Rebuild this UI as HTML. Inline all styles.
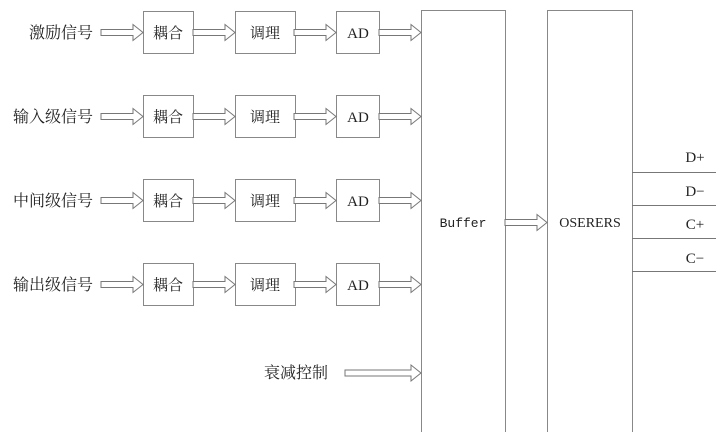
<!DOCTYPE html>
<html><head><meta charset="utf-8"><style>
html,body{margin:0;padding:0;background:#fff;}
svg{display:block;}
text{font-family:"Liberation Serif","Noto Serif CJK SC","Noto Sans CJK SC",serif;fill:#222;}
</style></head><body>
<svg width="720" height="432" viewBox="0 0 720 432" xmlns="http://www.w3.org/2000/svg">
<defs>
<g id="arr"><polygon points="0,-3 32,-3 32,-8 42,0 32,8 32,3 0,3" fill="#fff" stroke="#777" stroke-width="1"/></g>
</defs>
<g stroke="#888" fill="#fff" stroke-width="1">
<rect x="421.5" y="10.5" width="84" height="430"/>
<rect x="547.5" y="10.5" width="85" height="430"/>
</g>
<g stroke="#777" stroke-width="1">
<line x1="632" y1="172.5" x2="716" y2="172.5"/>
<line x1="632" y1="205.5" x2="716" y2="205.5"/>
<line x1="632" y1="238.5" x2="716" y2="238.5"/>
<line x1="632" y1="271.5" x2="716" y2="271.5"/>
</g>
<g font-size="15" text-anchor="middle">
<text x="695" y="162">D+</text>
<text x="695" y="196">D−</text>
<text x="695" y="229">C+</text>
<text x="695" y="263">C−</text>
<text x="463" y="227" style="font-family:'Liberation Mono',monospace;font-size:13px">Buffer</text>
<text x="590" y="227" font-size="14">OSERERS</text>
</g>
<g font-size="16">
<text x="93" y="38" text-anchor="end">激励信号</text>
<text x="93" y="122" text-anchor="end">输入级信号</text>
<text x="93" y="206" text-anchor="end">中间级信号</text>
<text x="93" y="290" text-anchor="end">输出级信号</text>
<text x="328" y="378" text-anchor="end">衰减控制</text>
</g>
<g stroke="#888" fill="#fff">
<rect x="143.5" y="11.5" width="50" height="42"/><rect x="235.5" y="11.5" width="60" height="42"/><rect x="336.5" y="11.5" width="43" height="42"/>
<rect x="143.5" y="95.5" width="50" height="42"/><rect x="235.5" y="95.5" width="60" height="42"/><rect x="336.5" y="95.5" width="43" height="42"/>
<rect x="143.5" y="179.5" width="50" height="42"/><rect x="235.5" y="179.5" width="60" height="42"/><rect x="336.5" y="179.5" width="43" height="42"/>
<rect x="143.5" y="263.5" width="50" height="42"/><rect x="235.5" y="263.5" width="60" height="42"/><rect x="336.5" y="263.5" width="43" height="42"/>
</g>
<g font-size="15" text-anchor="middle">
<text x="168" y="38">耦合</text><text x="265" y="38">调理</text><text x="358" y="38">AD</text>
<text x="168" y="122">耦合</text><text x="265" y="122">调理</text><text x="358" y="122">AD</text>
<text x="168" y="206">耦合</text><text x="265" y="206">调理</text><text x="358" y="206">AD</text>
<text x="168" y="290">耦合</text><text x="265" y="290">调理</text><text x="358" y="290">AD</text>
</g>
<use href="#arr" transform="translate(101,32.5)"/><use href="#arr" transform="translate(193,32.5)"/><use href="#arr" transform="translate(294,32.5)"/><use href="#arr" transform="translate(379,32.5)"/>
<use href="#arr" transform="translate(101,116.5)"/><use href="#arr" transform="translate(193,116.5)"/><use href="#arr" transform="translate(294,116.5)"/><use href="#arr" transform="translate(379,116.5)"/>
<use href="#arr" transform="translate(101,200.5)"/><use href="#arr" transform="translate(193,200.5)"/><use href="#arr" transform="translate(294,200.5)"/><use href="#arr" transform="translate(379,200.5)"/>
<use href="#arr" transform="translate(101,284.5)"/><use href="#arr" transform="translate(193,284.5)"/><use href="#arr" transform="translate(294,284.5)"/><use href="#arr" transform="translate(379,284.5)"/>
<use href="#arr" transform="translate(505,222.5)"/>
<polygon points="345,370 411,370 411,365 421,373 411,381 411,376 345,376" fill="#fff" stroke="#777"/>
</svg>
</body></html>
